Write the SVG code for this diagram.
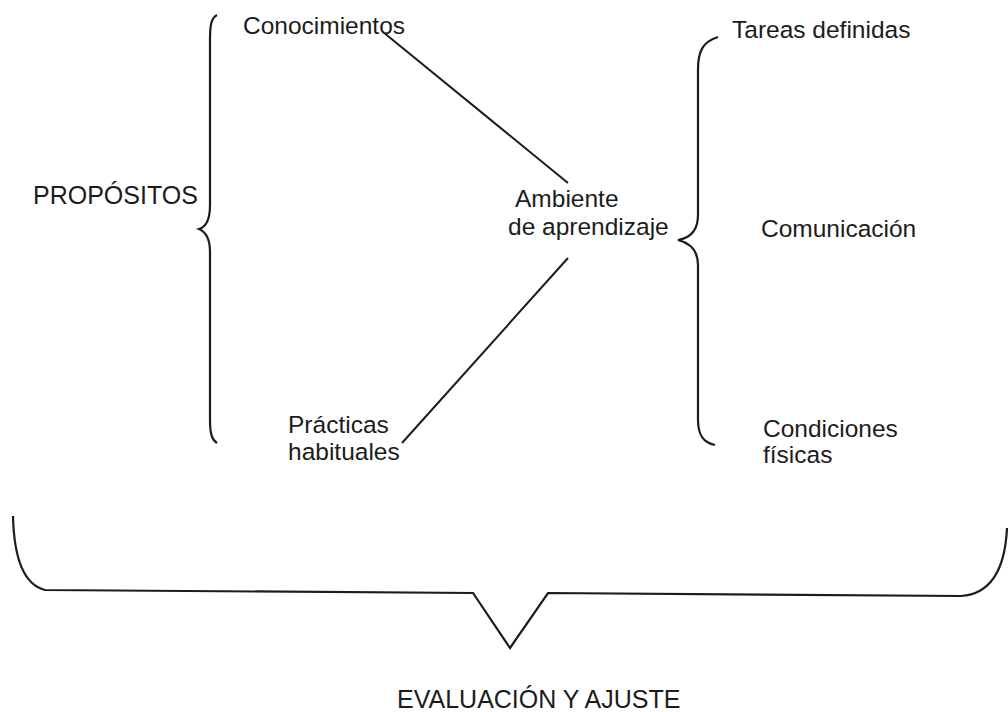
<svg xmlns="http://www.w3.org/2000/svg" width="1008" height="712" viewBox="0 0 1008 712">
<style>
text{font-family:"Liberation Sans",Arial,sans-serif;font-size:24.5px;fill:#1c1c1c}
.br{fill:none;stroke:#1c1c1c;stroke-width:2.2;stroke-linejoin:miter}
.ln{stroke:#1c1c1c;stroke-width:2}
</style>
<rect width="1008" height="712" fill="#fff"/>
<g id="brace-left">
<path class="br" d="M217,15 C211,18 210,26 210,40 L210,205 C210,220 206,227 199,229 C206,232 210,238 210,252 L210,420 C210,434 212,440 217,443"/>
</g>
<g id="brace-right">
<path class="br" d="M718,37 C702,42 698,52 698,70 L698,215 C698,230 690,238 678,240 C690,243 698,250 698,265 L698,420 C698,436 704,443 715,445"/>
</g>
<g id="brace-bottom">
<path class="br" d="M13,516 C14,560 25,585 45,590 L473,593 L510,648 L548,593 L961,596 C990,594 1005,570 1007,528"/>
</g>
<g id="connectors">
<line class="ln" x1="383" y1="32" x2="568" y2="183"/>
<line class="ln" x1="402" y1="443" x2="568" y2="258"/>
</g>
<g id="propositos"><text x="33" y="204" style="font-size:25px">PROPÓSITOS</text></g>
<g id="conocimientos"><text x="243" y="34">Conocimientos</text></g>
<g id="practicas"><text x="288" y="433">Prácticas</text><text x="288" y="460">habituales</text></g>
<g id="ambiente"><text x="515" y="207">Ambiente</text><text x="508" y="235">de aprendizaje</text></g>
<g id="tareas"><text x="732" y="38">Tareas definidas</text></g>
<g id="comunicacion"><text x="761" y="237">Comunicación</text></g>
<g id="condiciones"><text x="763" y="437">Condiciones</text><text x="763" y="463">físicas</text></g>
<g id="evaluacion"><text x="397" y="708" style="font-size:25px">EVALUACIÓN Y AJUSTE</text></g>
</svg>
